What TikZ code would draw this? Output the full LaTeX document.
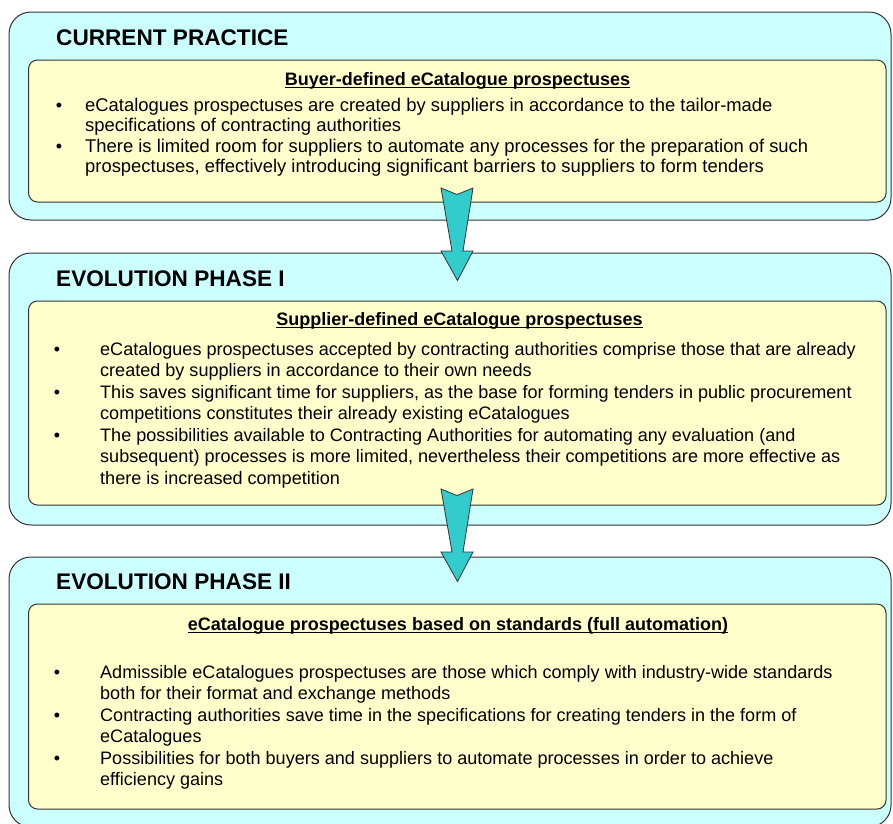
\documentclass[tikz,border=0pt]{standalone}
\usepackage{fontspec}
\setmainfont{Liberation Sans}
\usetikzlibrary{calc}
\definecolor{outerfill}{HTML}{CCFFFF}
\definecolor{innerfill}{HTML}{FFFFCC}
\definecolor{arrowfill}{HTML}{33CCCC}
\definecolor{edge}{HTML}{333333}
\tikzset{
  outerbox/.style={draw=edge, line width=1pt, fill=outerfill, rounded corners=22pt, anchor=north west, inner sep=0pt, outer sep=0pt},
  innerbox/.style={draw=edge, line width=1pt, fill=innerfill, rounded corners=9pt, anchor=north west, inner sep=0pt, outer sep=0pt},
  phasetitle/.style={anchor=base west, inner sep=0pt, font=\fontsize{22.6}{26}\selectfont\bfseries},
  subtitle/.style={anchor=base, inner sep=0pt, font=\fontsize{18}{21}\selectfont\bfseries},
  underl/.style={line width=1.3pt, black},
  bodyline/.style={anchor=base west, inner sep=0pt, font=\fontsize{18.05}{21}\selectfont},
  bodylineA/.style={bodyline, font=\fontsize{18.4}{21}\selectfont},
  bulletmark/.style={anchor=base, inner sep=0pt, font=\fontsize{18}{21}\selectfont},
  blockarrow/.style={draw=edge, line width=0.8pt, fill=arrowfill, line join=miter}
}
\begin{document}
\begin{tikzpicture}[x=1pt, y=-1pt]
\useasboundingbox (0,0) rectangle (893,823);
\clip (0,0) rectangle (893,823);
% boxes
\node[outerbox, minimum width=882pt, minimum height=208pt] (o1) at (9,12) {};
\node[innerbox, minimum width=857.5pt, minimum height=142pt] (i1) at (28.5,60) {};
\node[outerbox, minimum width=882pt, minimum height=272pt] (o2) at (9,253) {};
\node[innerbox, minimum width=857.5pt, minimum height=204pt] (i2) at (28.5,301) {};
\node[outerbox, minimum width=882pt, minimum height=270pt] (o3) at (9,557) {};
\node[innerbox, minimum width=857.5pt, minimum height=205pt] (i3) at (28.5,604) {};
% titles
\node[phasetitle] (t1) at (56,45.5) {CURRENT PRACTICE};
\node[phasetitle] (t2) at (56,286.5) {EVOLUTION PHASE I};
\node[phasetitle] (t3) at (56,589) {EVOLUTION PHASE II};
% subtitles
\node[subtitle] (s1) at (457.5,85) {Buyer-defined eCatalogue prospectuses};
\node[subtitle] (s2) at (459.5,325) {Supplier-defined eCatalogue prospectuses};
\node[subtitle] (s3) at (458,630) {eCatalogue prospectuses based on standards (full automation)};
\foreach \s in {s1,s2,s3}{
  \draw[underl] ([yshift=-2.3pt]\s.base west) -- ([yshift=-2.3pt]\s.base east);
}
% box 1 body
\node[bulletmark] (b11) at (59,111) {•};
\node[bulletmark] (b12) at (59,152) {•};
\node[bodylineA] (l11) at (85,111) {eCatalogues prospectuses are created by suppliers in accordance to the tailor-made};
\node[bodylineA] (l12) at (85,131) {specifications of contracting authorities};
\node[bodylineA] (l13) at (85,152) {There is limited room for suppliers to automate any processes for the preparation of such};
\node[bodylineA] (l14) at (85,172) {prospectuses, effectively introducing significant barriers to suppliers to form tenders};
% box 2 body
\node[bulletmark] (b21) at (57,355) {•};
\node[bulletmark] (b22) at (57,398) {•};
\node[bulletmark] (b23) at (57,441) {•};
\node[bodyline] (l21) at (100,355) {eCatalogues prospectuses accepted by contracting authorities comprise those that are already};
\node[bodyline] (l22) at (100,376.5) {created by suppliers in accordance to their own needs};
\node[bodyline] (l23) at (100,398) {This saves significant time for suppliers, as the base for forming tenders in public procurement};
\node[bodyline] (l24) at (100,419.5) {competitions constitutes their already existing eCatalogues};
\node[bodyline] (l25) at (100,441) {The possibilities available to Contracting Authorities for automating any evaluation (and};
\node[bodyline] (l26) at (100,462.5) {subsequent) processes is more limited, nevertheless their competitions are more effective as};
\node[bodyline] (l27) at (100,484) {there is increased competition};
% box 3 body
\node[bulletmark] (b31) at (57,678) {•};
\node[bulletmark] (b32) at (57,721) {•};
\node[bulletmark] (b33) at (57,764) {•};
\node[bodyline] (l31) at (100,678) {Admissible eCatalogues prospectuses are those which comply with industry-wide standards};
\node[bodyline] (l32) at (100,699.5) {both for their format and exchange methods};
\node[bodyline] (l33) at (100,721) {Contracting authorities save time in the specifications for creating tenders in the form of};
\node[bodyline] (l34) at (100,742.5) {eCatalogues};
\node[bodyline] (l35) at (100,764) {Possibilities for both buyers and suppliers to automate processes in order to achieve};
\node[bodyline] (l36) at (100,785) {efficiency gains};
% block arrows
\coordinate (a1) at (457,188);
\coordinate (a2) at (457,489);
\foreach \a in {a1,a2}{
  \draw[blockarrow, shift={(\a)}] (-16,0) -- (0,6.5) -- (16,0) -- (6,63) -- (16,63) -- (0.5,92.5) -- (-16,63) -- (-5,63) -- cycle;
}
\end{tikzpicture}
\end{document}
